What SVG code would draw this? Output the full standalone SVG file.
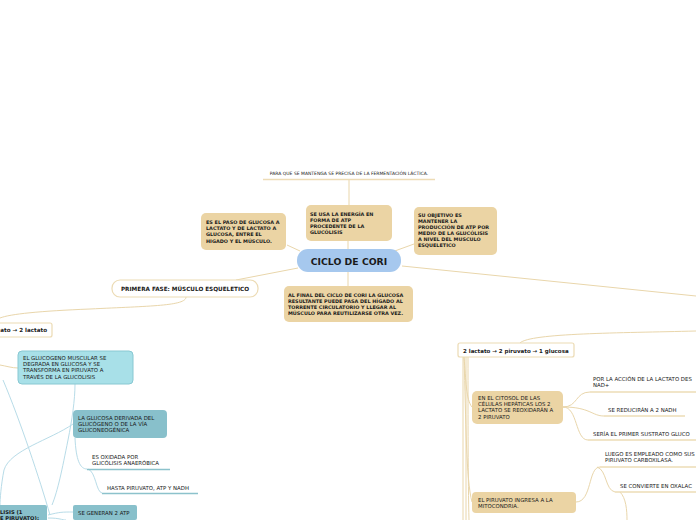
<svg xmlns="http://www.w3.org/2000/svg" width="696" height="520" viewBox="0 0 696 520">
<style>
text{font-family:"DejaVu Sans","Liberation Sans",sans-serif;fill:#1a1a1a}
.b{font-weight:bold;font-size:4.9px}
.r{font-size:5.4px}
.tan{fill:#ebd4a4}
.lc{fill:none;stroke:#e9d6ab;stroke-width:1}
.bc{fill:none;stroke:#b8dce8;stroke-width:1}
.ul{stroke:#eddcb6;stroke-width:1.5}
.ulb{stroke:#8cc2cc;stroke-width:1.5}
.wn{fill:#fff;stroke:#ecdbb4;stroke-width:1.2}
.teal{fill:#88c0cb}
</style>
<rect width="696" height="520" fill="#fff"/>
<g id="connectors">
<path class="lc" d="M349 180 V205"/>
<path class="lc" d="M348 241 V249"/>
<path class="lc" d="M300 251 L287 245"/>
<path class="lc" d="M392 252 L414 244"/>
<path class="lc" d="M348 272 V286"/>
<path class="lc" d="M298 268 L236 280"/>
<path class="lc" d="M402 266 L696 296"/>
<path class="lc" d="M186 297 C186 306 150 306 90 309 C40 311 10 314 0 318"/>
<path class="lc" d="M0 365 C6 366 12 368 18 368"/>
<path class="lc" d="M696 331 C620 333 530 333 520 343"/>
<path class="lc" d="M464 357 C466 380 466 400 472 407"/>
<path class="lc" d="M464 357 C466 420 466 480 472 502"/>
<path class="lc" d="M463 357 V520"/>
<path class="lc" d="M466 357 V520"/>
<path class="lc" d="M468 357 C468 420 468 480 469 520"/>
<path class="lc" d="M563 407 C578 407 575 392 590 392"/>
<path class="lc" d="M563 407 C590 407 592 416 604 416"/>
<path class="lc" d="M563 407 C578 407 575 440 588 440"/>
<path class="lc" d="M576 502 C592 502 588 467 600 467"/>
<path class="lc" d="M597 467 C607 470 605 490 615 492"/>
<path class="lc" d="M620 492 C626 498 627 510 627 520"/>
<path class="bc" d="M75 384 C75 400 72 420 68 440 C62 470 58 490 52 505"/>
<path class="bc" d="M73 424 C50 440 10 450 4 470 C1 485 0 500 0 505"/>
<path class="bc" d="M3 380 C20 420 40 480 50 515"/>
<path class="bc" d="M48 515 C60 512 62 512 73 512"/>
<path class="bc" d="M48 518 C60 518 62 520 66 520"/>
<path class="bc" d="M75 438 C76 460 80 469 87 469"/>
<path class="bc" d="M88 469 C96 472 96 492 102 493"/>
</g>
<g id="top-note">
<text x="349" y="174.5" text-anchor="middle" style="font-size:4.5px">PARA QUE SE MANTENGA SE PRECISA DE LA FERMENTACIÓN LÁCTICA.</text>
<line class="ul" x1="263" y1="179.5" x2="435" y2="179.5"/>
</g>
<g id="ciclo">
<rect x="297" y="249" width="104" height="23" rx="11" fill="#a6c8ee"/>
<text x="349" y="265" text-anchor="middle" style="font-weight:bold;font-size:9.3px">CICLO DE CORI</text>
</g>
<g id="se-usa">
<rect class="tan" x="306" y="205" width="86" height="36" rx="5"/>
<text class="b" x="310" y="216">SE USA LA ENERGÍA EN</text>
<text class="b" x="310" y="222">FORMA DE ATP</text>
<text class="b" x="310" y="228">PROCEDENTE DE LA</text>
<text class="b" x="310" y="234">GLUCÓLISIS</text>
</g>
<g id="es-el-paso">
<rect class="tan" x="201" y="213" width="85" height="37" rx="5"/>
<text class="b" x="206" y="224">ES EL PASO DE GLUCOSA A</text>
<text class="b" x="206" y="230">LACTATO Y DE LACTATO A</text>
<text class="b" x="206" y="236">GLUCOSA, ENTRE EL</text>
<text class="b" x="206" y="243">HIGADO Y EL MÚSCULO.</text>
</g>
<g id="su-objetivo">
<rect class="tan" x="414" y="207" width="83" height="48" rx="5"/>
<text class="b" x="418" y="217">SU OBJETIVO ES</text>
<text class="b" x="418" y="223">MANTENER LA</text>
<text class="b" x="418" y="229">PRODUCCIÓN DE ATP POR</text>
<text class="b" x="418" y="235">MEDIO DE LA GLUCÓLISIS</text>
<text class="b" x="418" y="241">A NIVEL DEL MUSCULO</text>
<text class="b" x="418" y="247">ESQUELETICO</text>
</g>
<g id="al-final">
<rect class="tan" x="284" y="286" width="129" height="36" rx="5"/>
<text class="b" x="288" y="297">AL FINAL DEL CICLO DE CORI LA GLUCOSA</text>
<text class="b" x="288" y="303">RESULTANTE PUEDE PASA DEL HÍGADO AL</text>
<text class="b" x="288" y="309">TORRENTE CIRCULATORIO Y LLEGAR AL</text>
<text class="b" x="288" y="315">MÚSCULO PARA REUTILIZARSE OTRA VEZ.</text>
</g>
<g id="primera-fase">
<rect class="wn" x="112" y="280" width="146" height="17" rx="8"/>
<text x="185" y="290.5" text-anchor="middle" style="font-weight:bold;font-size:5.7px">PRIMERA FASE: MÚSCULO ESQUELETICO</text>
</g>
<g id="lactato-left">
<rect class="wn" x="-20" y="323" width="72" height="14" rx="2"/>
<text x="47" y="332" text-anchor="end" style="font-weight:bold;font-size:5.6px">ato → 2 lactato</text>
</g>
<g id="glucogeno">
<rect x="18" y="351" width="115" height="33" rx="4" fill="#a8e0e8" stroke="#88c8d2" stroke-width="1"/>
<text class="r" x="23" y="360">EL GLUCOGENO MUSCULAR SE</text>
<text class="r" x="23" y="366">DEGRADA EN GLUCOSA Y SE</text>
<text class="r" x="23" y="372">TRANSFORMA EN PIRUVATO A</text>
<text class="r" x="23" y="379">TRAVÉS DE LA GLUCOLISIS</text>
</g>
<g id="la-glucosa">
<rect class="teal" x="73" y="410" width="94" height="28" rx="4"/>
<text class="r" x="78" y="420">LA GLUCOSA DERIVADA DEL</text>
<text class="r" x="78" y="426">GLUCÓGENO O DE LA VÍA</text>
<text class="r" x="78" y="432">GLUCONEOGÉNICA</text>
</g>
<g id="es-oxidada">
<text class="r" x="92" y="459">ES OXIDADA POR</text>
<text class="r" x="92" y="465">GLICÓLISIS ANAERÓBICA</text>
<line class="ulb" x1="87" y1="469.5" x2="170" y2="469.5"/>
</g>
<g id="hasta-piruvato">
<text class="r" x="107" y="490">HASTA PIRUVATO, ATP Y NADH</text>
<line class="ulb" x1="102" y1="493.5" x2="198" y2="493.5"/>
</g>
<g id="se-generan">
<rect class="teal" x="73" y="505" width="64" height="15" rx="2"/>
<text class="r" x="78" y="514.5">SE GENERAN 2 ATP</text>
</g>
<g id="glucolisis">
<rect class="teal" x="-20" y="505" width="67" height="20" rx="2"/>
<text class="b" x="0" y="513.5" style="font-size:5.2px">LISIS (1</text>
<text class="b" x="0" y="520" style="font-size:5.2px">E PIRUVATO):</text>
</g>
<g id="lactato-right">
<rect class="wn" x="458" y="343" width="116" height="14" rx="2"/>
<text x="463" y="352.5" style="font-weight:bold;font-size:5.5px">2 lactato → 2 piruvato → 1 glucosa</text>
</g>
<g id="citosol">
<rect class="tan" x="472" y="391" width="91" height="33" rx="5"/>
<text class="r" x="478" y="400">EN EL CITOSOL DE LAS</text>
<text class="r" x="478" y="406">CÉLULAS HEPÁTICAS LOS 2</text>
<text class="r" x="478" y="412">LACTATO SE REOXIDARÁN A</text>
<text class="r" x="478" y="418.5">2 PIRUVATO</text>
</g>
<g id="por-la-accion">
<text class="r" x="593" y="381">POR LA ACCIÓN DE LA LACTATO DES</text>
<text class="r" x="593" y="387">NAD+</text>
<line class="ul" x1="590" y1="392" x2="696" y2="392"/>
</g>
<g id="se-reduciran">
<text class="r" x="608" y="411.5">SE REDUCIRÁN A 2 NADH</text>
<line class="ul" x1="604" y1="416" x2="685" y2="416"/>
</g>
<g id="seria">
<text class="r" x="593" y="435.5">SERÍA EL PRIMER SUSTRATO GLUCO</text>
<line class="ul" x1="588" y1="440" x2="696" y2="440"/>
</g>
<g id="luego">
<text class="r" x="605" y="456">LUEGO ES EMPLEADO COMO SUS</text>
<text class="r" x="605" y="462">PIRUVATO CARBOXILASA.</text>
<line class="ul" x1="600" y1="467" x2="696" y2="467"/>
</g>
<g id="se-convierte">
<text class="r" x="620" y="487.5">SE CONVIERTE EN OXALAC</text>
<line class="ul" x1="615" y1="492" x2="696" y2="492"/>
</g>
<g id="el-piruvato">
<rect class="tan" x="472" y="492" width="104" height="21" rx="4"/>
<text class="r" x="478" y="501.5">EL PIRUVATO INGRESA A LA</text>
<text class="r" x="478" y="507.5">MITOCONDRIA.</text>
</g>
</svg>
